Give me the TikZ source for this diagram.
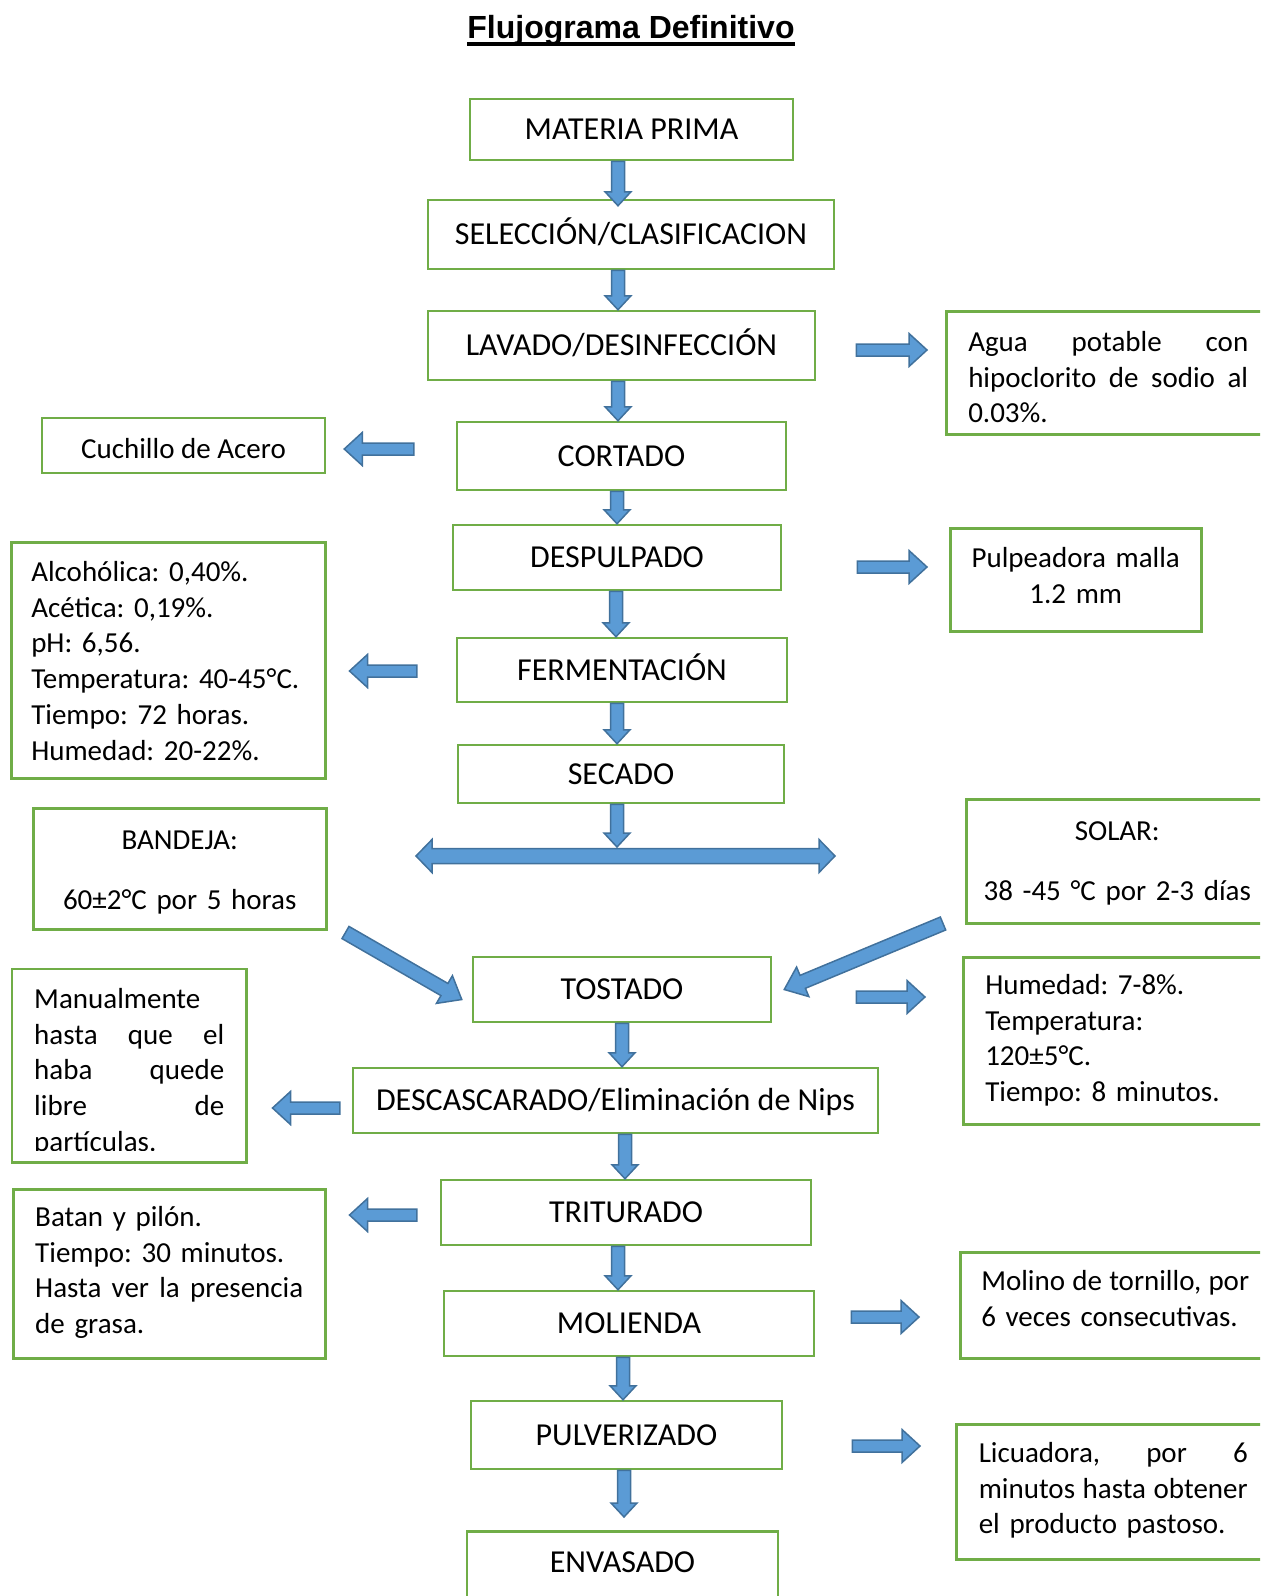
\documentclass[tikz,border=0pt]{standalone}
\usepackage{fontspec}
\setmainfont{Carlito}
\newfontfamily\titulofont{Liberation Sans}
\usetikzlibrary{calc}
\definecolor{verde}{HTML}{70AD47}
\definecolor{azul}{HTML}{5B9BD5}
\definecolor{azulborde}{HTML}{41719C}
\newcommand{\flecha}[5]{%
  \filldraw[bloque] let \p1=#1, \p2=#2, \n1={atan2(\y2-\y1,\x2-\x1)} in
    ($(\p1)+({\n1+90}:#3)$) -- ($(\p2)!#5!(\p1)+({\n1+90}:#3)$)
    -- ($(\p2)!#5!(\p1)+({\n1+90}:#4)$) -- (\p2)
    -- ($(\p2)!#5!(\p1)+({\n1-90}:#4)$) -- ($(\p2)!#5!(\p1)+({\n1-90}:#3)$)
    -- ($(\p1)+({\n1-90}:#3)$) -- cycle;}
\newcommand{\baja}[2]{\flecha{#1}{#2}{3.25pt}{6.5pt}{7pt}}
\newcommand{\lado}[2]{\flecha{#1}{#2}{3pt}{8.25pt}{9pt}}
\newcommand{\justa}[2]{\leavevmode\hbox to #1{#2}}

\begin{document}
\frenchspacing
\begin{tikzpicture}[x=0.5pt,y=-0.5pt,
    proceso/.style={draw=verde, line width=1.25pt, inner sep=0pt,
      font=\fontsize{16}{19}\selectfont, text height=10.3pt, text depth=0pt},
    nota/.style={draw=verde, line width=1.25pt, inner sep=0pt, anchor=north west,
      font=\fontsize{14.5}{17.9}\selectfont},
    bloque/.style={fill=azul, draw=azulborde, line width=0.75pt, line join=miter}]
  \useasboundingbox (0,0) rectangle (1260,1596);
  \clip (0,0) rectangle (1260,1596);

  \node[font=\titulofont\bfseries\fontsize{16}{19}\selectfont, inner sep=0pt, anchor=base] (titulo) at (631,38) {Flujograma Definitivo};
  \draw[line width=2pt] ($(titulo.base west)+(0,5.5)$) -- ($(titulo.base east)+(0,5.5)$);

  \node[proceso, minimum width=161.5pt, minimum height=30.5pt] (mp) at (631.5,129.5) {MATERIA PRIMA};
  \node[proceso, minimum width=203pt, minimum height=34.5pt] (sel) at (631,234.5) {SELECCIÓN/CLASIFICACION};
  \node[proceso, minimum width=193.5pt, minimum height=34.5pt] (lav) at (621.5,345.5) {LAVADO/DESINFECCIÓN};
  \node[proceso, minimum width=164.5pt, minimum height=34pt] (cort) at (621.5,456) {CORTADO};
  \node[proceso, minimum width=164pt, minimum height=32.5pt] (desp) at (617,557.5) {DESPULPADO};
  \node[proceso, minimum width=165pt, minimum height=32pt] (ferm) at (622,670) {FERMENTACIÓN};
  \node[proceso, minimum width=163pt, minimum height=29pt] (sec) at (621,774) {SECADO};
  \node[proceso, minimum width=149pt, minimum height=32.5pt] (tost) at (622,989.5) {TOSTADO};
  \node[proceso, minimum width=262.5pt, minimum height=32.5pt] (desc) at (615.5,1100.5) {DESCASCARADO/Eliminación de Nips};
  \node[proceso, minimum width=185pt, minimum height=32.5pt] (trit) at (626,1212.5) {TRITURADO};
  \node[proceso, minimum width=185pt, minimum height=32.5pt] (mol) at (629,1323.5) {MOLIENDA};
  \node[proceso, minimum width=155.5pt, minimum height=34pt] (pulv) at (626.5,1435) {PULVERIZADO};
  \node[proceso, anchor=north, minimum width=155.5pt, text height=20.7pt, text depth=30pt] (env) at (622.5,1530) {ENVASADO};

  \node[proceso, font=\fontsize{14.5}{17.9}\selectfont, text height=12.5pt, minimum width=141.5pt, minimum height=27.5pt] (cuch) at (183.5,445.5) {Cuchillo de Acero};
  \node[nota, minimum width=162pt, text width=140pt, text height=20pt, text depth=41.5pt, align=left] (agua) at (945,310)
    {\justa{140pt}{Agua\hfill potable\hfill con}\\\justa{140pt}{hipoclorito\hfill de\hfill sodio\hfill al}\\0.03\%.};
  \node[nota, minimum width=125.5pt, text width=110pt, text height=19.5pt, text depth=32pt, align=center] (pulp) at (949,527)
    {Pulpeadora malla\\1.2 mm};
  \node[nota, minimum width=157pt, text width=137pt, text height=19.5pt, text depth=98.5pt, align=left] (alc) at (10,541)
    {Alcohólica: 0,40\%.\\Acética: 0,19\%.\\pH: 6,56.\\Temperatura: 40-45°C.\\Tiempo: 72 horas.\\Humedad: 20-22\%.};
  \node[nota, minimum width=146.5pt, text width=130pt, text height=20.5pt, text depth=40pt, align=center] (band) at (32,807)
    {BANDEJA:\\[12pt]60±2°C por 5 horas};
  \node[nota, minimum width=151pt, text width=140pt, text height=20.5pt, text depth=41.5pt, align=center] (solar) at (965,798)
    {SOLAR:\\[12pt]38 -45 °C por 2-3 días};
  \node[nota, minimum width=156.5pt, text width=134.5pt, text height=18.5pt, text depth=65pt, align=left] (hum) at (962,956)
    {Humedad: 7-8\%.\\Temperatura:\\120±5°C.\\Tiempo: 8 minutos.};
  \begin{scope}
    \clip (0,960) rectangle (260,1150);
    \node[nota, draw=none, minimum width=116pt, text width=95pt, text height=19pt, text depth=76.5pt, align=left] (manual) at (12,969)
      {Manualmente\\\justa{95pt}{hasta\hfill que\hfill el}\\\justa{95pt}{haba\hfill quede}\\\justa{95pt}{libre\hfill de}\\partículas.};
  \end{scope}
  \draw[verde, line width=1.25pt] (manual.south west) rectangle (manual.north east);
  \node[nota, minimum width=156pt, text width=134pt, text height=18.5pt, text depth=66pt, align=left] (batan) at (12,1188)
    {Batan y pilón.\\Tiempo: 30 minutos.\\\justa{134pt}{Hasta\hfill ver\hfill la\hfill presencia}\\de grasa.};
  \node[nota, minimum width=155pt, text width=134pt, text height=19pt, text depth=34pt, align=left] (molino) at (959,1251)
    {\justa{134pt}{Molino\hfill de\hfill tornillo,\hfill por}\\6 veces consecutivas.};
  \node[nota, minimum width=157pt, text width=134.5pt, text height=19pt, text depth=48.5pt, align=left] (lic) at (955,1423)
    {\justa{134.5pt}{Licuadora,\hfill por\hfill 6}\\\justa{134.5pt}{minutos\hfill hasta\hfill obtener}\\el producto pastoso.};

  \coordinate (bifur) at (617,847);
  \coordinate (dizq) at (416,856);
  \coordinate (dder) at (835,856);

  \baja{(618,0 |- mp.south)}{($(618,0 |- sel.north)+(0,7)$)}
  \baja{(618,0 |- sel.south)}{(618,0 |- lav.north)}
  \baja{(618,0 |- lav.south)}{(618,0 |- cort.north)}
  \baja{(617,0 |- cort.south)}{(617,0 |- desp.north)}
  \baja{(616,0 |- desp.south)}{(616,0 |- ferm.north)}
  \baja{(617,0 |- ferm.south)}{(617,0 |- sec.north)}
  \baja{(617,0 |- sec.south)}{(bifur)}
  \baja{(622,0 |- tost.south)}{(622,0 |- desc.north)}
  \baja{(625,0 |- desc.south)}{(625,0 |- trit.north)}
  \baja{(618,0 |- trit.south)}{(618,0 |- mol.north)}
  \baja{(623,0 |- mol.south)}{(623,0 |- pulv.north)}
  \baja{(624,0 |- pulv.south)}{($(624,0 |- env.north)+(0,-13)$)}

  \filldraw[bloque] (dizq) -- ++(16,-16.5) -- ++(0,9) -- ($(dder)+(-16,-7.5)$) -- ++(0,-9) -- (dder)
    -- ++(-16,16.5) -- ++(0,-9) -- ($(dizq)+(16,7.5)$) -- ++(0,9) -- cycle;

  \lado{($(lav.east)+(40,4.5)$)}{($(agua.west |- lav.east)+(-18,4.5)$)}
  \lado{($(cort.west)+(-42,-7)$)}{($(cuch.east |- cort.west)+(18,-7)$)}
  \lado{($(desp.east)+(75,9.5)$)}{($(pulp.west |- desp.east)+(-22,9.5)$)}
  \lado{($(ferm.west)+(-39,1)$)}{($(alc.east |- ferm.west)+(23,1)$)}
  \lado{($(tost.east)+(84,7.5)$)}{($(hum.west |- tost.east)+(-37,7.5)$)}
  \lado{($(desc.west)+(-12,7.5)$)}{($(manual.east |- desc.west)+(26,7.5)$)}
  \lado{($(trit.west)+(-23,2.5)$)}{($(batan.east |- trit.west)+(23,2.5)$)}
  \lado{($(mol.east)+(36,-6.5)$)}{($(molino.west |- mol.east)+(-40,-6.5)$)}
  \lado{($(pulv.east)+(69,11)$)}{($(lic.west |- pulv.east)+(-35,11)$)}

  \flecha{($(band.south east)+(18,2)$)}{($(tost.west)+(-10,10)$)}{3.5pt}{8pt}{10pt}
  \flecha{($(solar.south west)+(-22,-1)$)}{($(tost.east)+(12,0)$)}{3.5pt}{8pt}{10pt}
\end{tikzpicture}
\end{document}
